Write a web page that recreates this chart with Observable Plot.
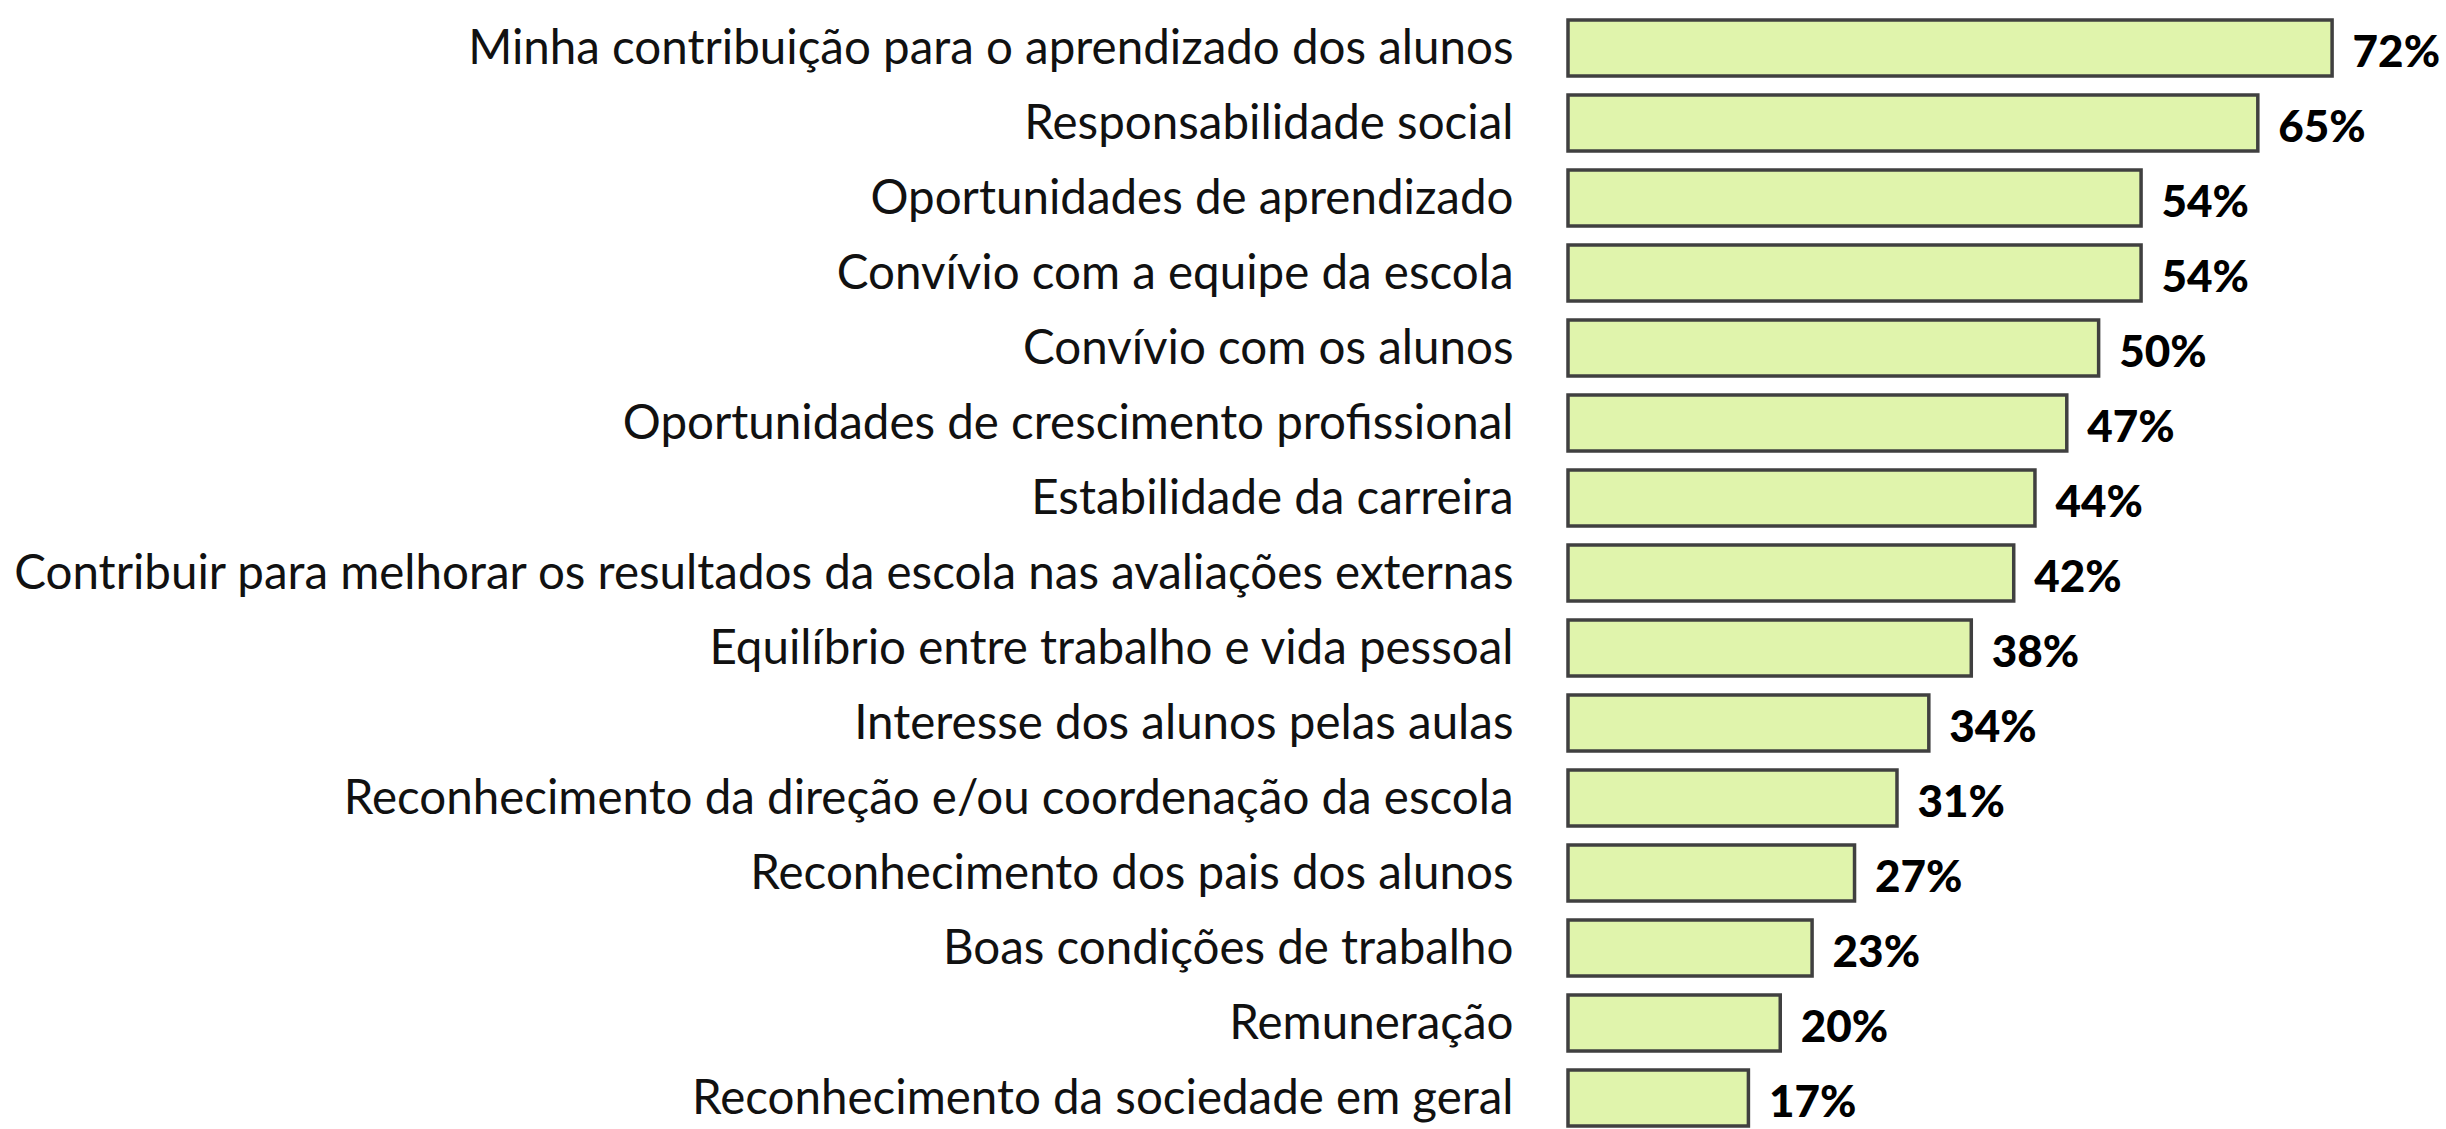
<!DOCTYPE html>
<html><head><meta charset="utf-8">
<script src="https://cdn.jsdelivr.net/npm/d3@7"></script>
<script src="https://cdn.jsdelivr.net/npm/@observablehq/plot@0.6"></script>
<style>
html,body{margin:0;padding:0;background:#fff;overflow:hidden;}
svg{display:block;}
</style></head>
<body><div id="chart"></div>
<script>
const categories = [
  "Minha contribuição para o aprendizado dos alunos",
  "Responsabilidade social",
  "Oportunidades de aprendizado",
  "Convívio com a equipe da escola",
  "Convívio com os alunos",
  "Oportunidades de crescimento profissional",
  "Estabilidade da carreira",
  "Contribuir para melhorar os resultados da escola nas avaliações externas",
  "Equilíbrio entre trabalho e vida pessoal",
  "Interesse dos alunos pelas aulas",
  "Reconhecimento da direção e/ou coordenação da escola",
  "Reconhecimento dos pais dos alunos",
  "Boas condições de trabalho",
  "Remuneração",
  "Reconhecimento da sociedade em geral"
];
const values = [72, 65, 54, 54, 50, 47, 44, 42, 38, 34, 31, 27, 23, 20, 17];

const data = categories.map((c, i) => ({category: c, value: values[i]}));

const chart = Plot.plot({
  width: 2446,
  height: 1149,
  marginLeft: 1568,
  marginRight: 29,
  marginTop: -2,
  marginBottom: 0,
  style: {fontFamily: "Lato, sans-serif", background: "#fff"},
  x: {domain: [0, 80], axis: null},
  y: {domain: categories, padding: 0.25, label: null},
  marks: [
    Plot.barX(data, {y: "category", x: "value", fill: "#e0f4ac", stroke: "#404040", strokeWidth: 3.5}),
    Plot.axisY({tickSize: 0, tickPadding: 55, fontSize: 47.5, label: null, fill: "#111"}),
    Plot.text(data, {y: "category", x: "value", text: d => d.value + "%", textAnchor: "start", dx: 20, dy: 4, fontSize: 44, fontWeight: 900, fill: "#000"})
  ]
});
document.getElementById("chart").append(chart);
</script>
</body></html>
